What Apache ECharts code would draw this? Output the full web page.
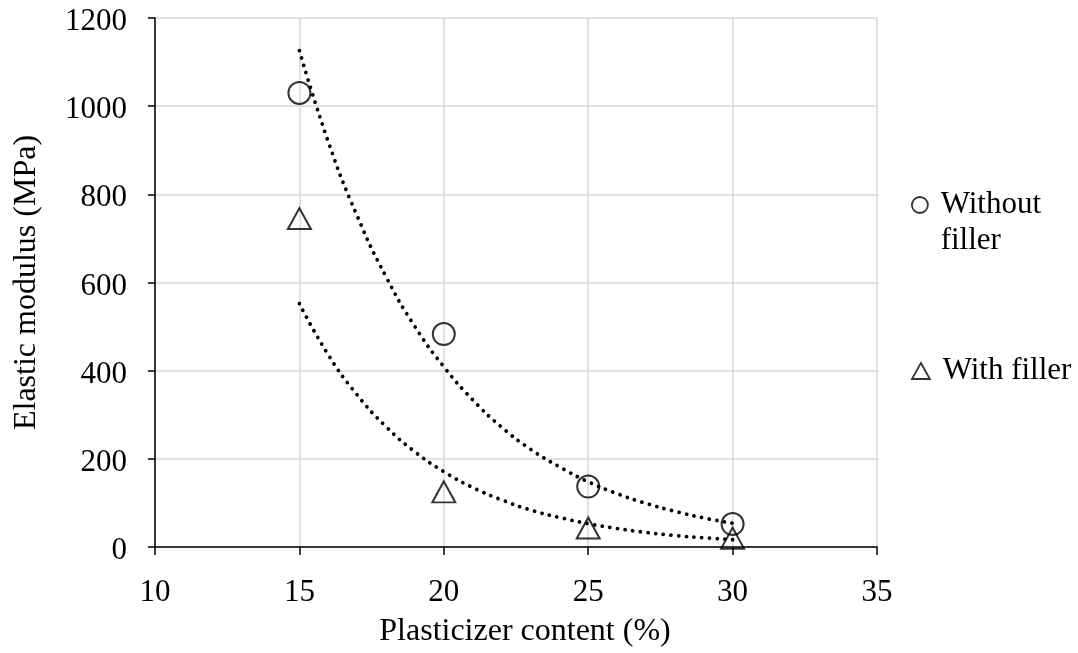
<!DOCTYPE html>
<html>
<head>
<meta charset="utf-8">
<script src="https://cdn.jsdelivr.net/npm/echarts@6/dist/echarts.min.js"></script>
<style>
  html, body { margin: 0; padding: 0; background: #fff; }
  #chart { width: 1078px; height: 653px; }
</style>
</head>
<body>
<div id="chart"></div>
<script>
// ---- data ----
const plasticizer = [15, 20, 25, 30];
const withoutFiller = [1030, 483, 137, 52];
const withFiller = [745, 125, 43, 20];

// trendline values at integer plasticizer contents
const trendX = [15, 16, 17, 18, 19, 20, 21, 22, 23, 24, 25, 26, 27, 28, 29, 30];
const trendWithout = [1126, 919, 751, 613, 500, 409, 334, 272, 222, 182, 148, 121, 99, 81, 66, 54];
const trendWith = [552, 436, 345, 273, 216, 171, 135, 107, 84, 67, 53, 42, 33, 26, 21, 16.5];

const xTicks = { min: 10, max: 35, interval: 5 };
const yTicks = { min: 0, max: 1200, interval: 200 };

const seriesNames = ['Without filler', 'With filler'];
const legendLabels = [' \n Without\n filler', ' With filler'];

// ---- build ----
const zip = (xs, ys) => xs.map((x, i) => [x, ys[i]]);
const font = 'Liberation Serif, Times New Roman, serif';

const chart = echarts.init(document.getElementById('chart'), null, { renderer: 'canvas' });

const markerStyle = { color: 'transparent', borderColor: '#000', borderWidth: 2 };
const trendStyle = { color: '#000', width: 3.8, type: [0.01, 7.7], cap: 'round' };

chart.setOption({
  animation: false,
  backgroundColor: '#fff',
  grid: { left: 155, right: 201, top: 18, bottom: 106, containLabel: false },
  xAxis: {
    type: 'value',
    min: xTicks.min, max: xTicks.max, interval: xTicks.interval,
    name: 'Plasticizer content (%)',
    nameLocation: 'middle',
    nameGap: 69,
    nameTextStyle: { fontFamily: font, fontSize: 32, color: '#000', padding: [0, 0, 0, 18] },
    axisLine: { show: true, onZero: false, lineStyle: { color: '#000', width: 1.5 } },
    axisTick: { show: true, inside: false, length: 8, lineStyle: { color: '#000', width: 1.5 } },
    axisLabel: { fontFamily: font, fontSize: 31, color: '#000', margin: 30, formatter: v => String(v) },
    splitLine: { show: true, lineStyle: { color: '#d9d9d9', width: 1.5 } }
  },
  yAxis: {
    type: 'value',
    min: yTicks.min, max: yTicks.max, interval: yTicks.interval,
    name: 'Elastic modulus (MPa)',
    nameLocation: 'middle',
    nameGap: 112,
    nameTextStyle: { fontFamily: font, fontSize: 32, color: '#000' },
    axisLine: { show: true, lineStyle: { color: '#000', width: 1.5 } },
    axisTick: { show: true, inside: false, length: 7, lineStyle: { color: '#000', width: 1.5 } },
    axisLabel: {
      fontFamily: font, fontSize: 31, color: '#000', margin: 28,
      formatter: v => '{t|' + v + '}',
      rich: { t: { fontFamily: font, fontSize: 31, color: '#000', padding: [8, 0, 0, 0] } }
    },
    splitLine: { show: true, lineStyle: { color: '#d9d9d9', width: 1.5 } }
  },
  legend: [
    {
      data: [{ name: seriesNames[0], icon: 'circle' }],
      left: 911, top: 151, padding: 0,
      itemWidth: 16, itemHeight: 16, itemGap: 0,
      formatter: () => legendLabels[0],
      itemStyle: { color: 'transparent', borderColor: '#000', borderWidth: 1.8 },
      textStyle: { fontFamily: font, fontSize: 31, color: '#000', lineHeight: 36 },
      selectedMode: false
    },
    {
      data: [{ name: seriesNames[1], icon: 'triangle' }],
      left: 911, top: 353, padding: 0,
      itemWidth: 18, itemHeight: 16, itemGap: 0,
      formatter: () => legendLabels[1],
      itemStyle: { color: 'transparent', borderColor: '#000', borderWidth: 1.8 },
      textStyle: { fontFamily: font, fontSize: 31, color: '#000', lineHeight: 36 },
      selectedMode: false
    }
  ],
  series: [
    {
      name: seriesNames[0], type: 'scatter', symbol: 'circle', symbolSize: 22,
      itemStyle: markerStyle, data: zip(plasticizer, withoutFiller), z: 2
    },
    {
      name: seriesNames[1], type: 'scatter', symbol: 'triangle', symbolSize: [23, 21],
      itemStyle: markerStyle, data: zip(plasticizer, withFiller), z: 2
    },
    {
      name: 'trend-without', type: 'line', data: zip(trendX, trendWithout), smooth: true,
      showSymbol: false, symbol: 'none', lineStyle: trendStyle, silent: true, z: 3
    },
    {
      name: 'trend-with', type: 'line', data: zip(trendX, trendWith), smooth: true,
      showSymbol: false, symbol: 'none', lineStyle: trendStyle, silent: true, z: 3
    }
  ]
});
</script>
</body>
</html>
